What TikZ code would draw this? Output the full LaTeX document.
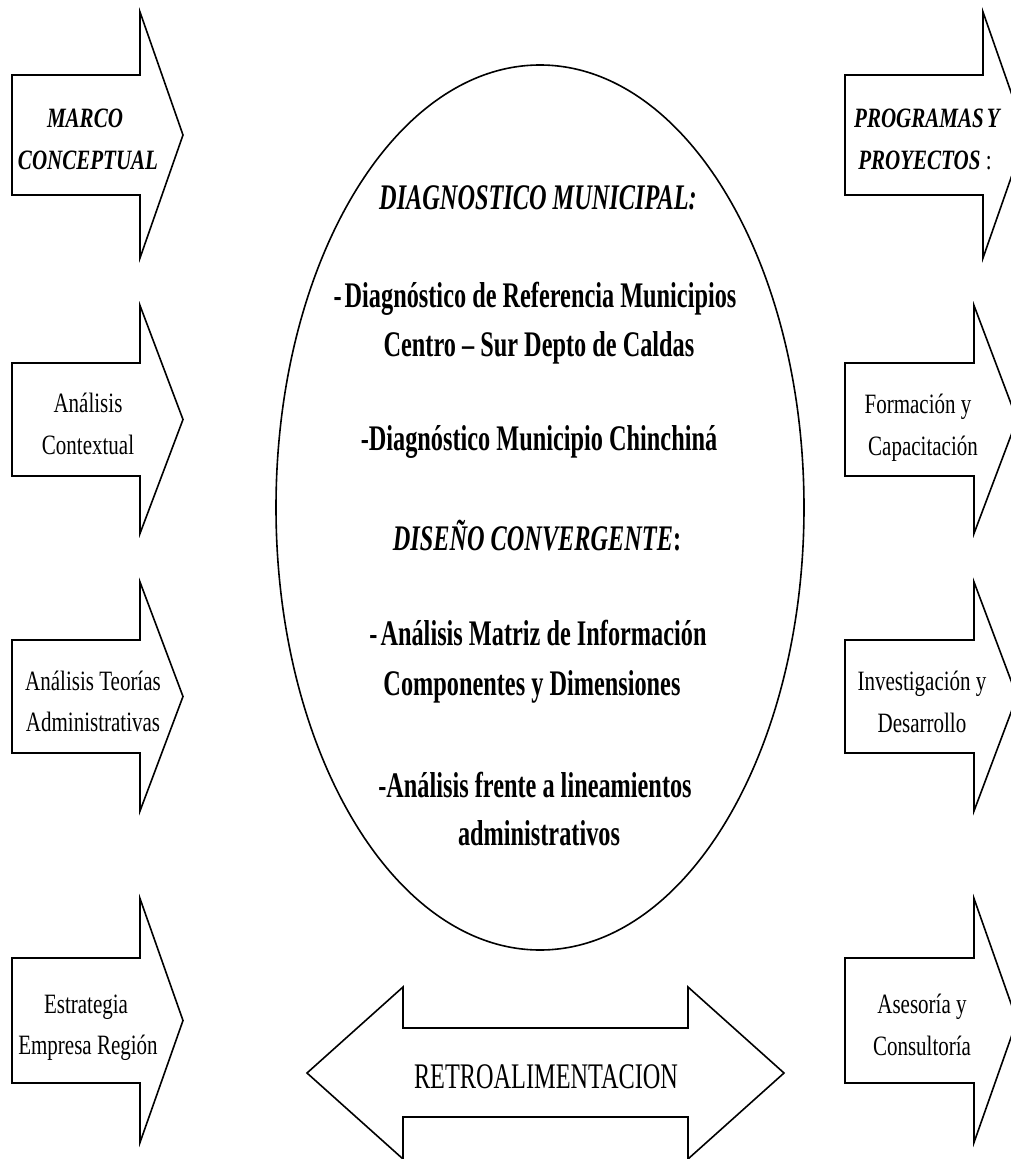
\documentclass[tikz,border=0pt]{standalone}
\usepackage{fontspec}
\setmainfont{Liberation Serif}
% narrow Times-like faces for the large and the small labels
\newfontfamily\bigtimes[FakeStretch=0.675]{Liberation Serif}
\newfontfamily\smalltimes[FakeStretch=0.75]{Liberation Serif}
\tikzset{
  outline/.style={draw=black, line width=1.6pt, line join=miter, fill=white},
  biglabel/.style={anchor=base, inner sep=0pt, font=\bigtimes\fontsize{36}{40}\selectfont},
  smalllabel/.style={anchor=base, inner sep=0pt, font=\smalltimes\fontsize{28}{32}\selectfont},
}
\begin{document}
\begin{tikzpicture}[x=1pt, y=-1pt]
  \useasboundingbox (0,0) rectangle (1011,1159);
  \fill[white] (0,0) rectangle (1011,1159);
  \clip (0,0) rectangle (1011,1159);

  % input arrows on the left: centre / half body / half head
  \foreach \c/\bh/\hh in {135/60/123, 419.5/56.5/114, 696.5/56.5/114.5, 1020.5/62.5/122}{
    \draw[outline] (12,{\c-\bh}) -- (140,{\c-\bh}) -- (140,{\c-\hh}) -- (183,\c)
      -- (140,{\c+\hh}) -- (140,{\c+\bh}) -- (12,{\c+\bh}) -- cycle;
  }
  % output arrows on the right
  \foreach \c/\bh/\hh/\s in {135/60/123/983, 419.5/56.5/114/974, 696.5/56.5/114.5/974, 1020.5/62.5/122/974}{
    \draw[outline] (845,{\c-\bh}) -- (\s,{\c-\bh}) -- (\s,{\c-\hh}) -- ({\s+43},\c)
      -- (\s,{\c+\hh}) -- (\s,{\c+\bh}) -- (845,{\c+\bh}) -- cycle;
  }

  % central ellipse
  \draw[outline] (540,507.5) ellipse [x radius=264pt, y radius=442.5pt];

  % feedback double arrow
  \draw[outline] (307,1073) -- (403,987) -- (403,1028) -- (688,1028) -- (688,987)
    -- (784,1073) -- (688,1159) -- (688,1117) -- (403,1117) -- (403,1159) -- cycle;

  % left labels
  \node[smalllabel] (mc1) at (85,127) {\bfseries\itshape MARCO};
  \node[smalllabel] (mc2) at (88,169) {\bfseries\itshape CONCEPTUAL};
  \node[smalllabel] (ac1) at (88,412) {Análisis};
  \node[smalllabel] (ac2) at (88,454) {Contextual};
  \node[smalllabel] (at1) at (93,690) {Análisis Teorías};
  \node[smalllabel] (at2) at (93,731) {Administrativas};
  \node[smalllabel] (er1) at (86,1013) {Estrategia};
  \node[smalllabel] (er2) at (88,1054) {Empresa Región};

  % right labels
  \node[smalllabel] (pp1) at (927,127) {\bfseries\itshape PROGRAMAS\kern-2pt{} Y};
  \node[smalllabel] (pp2) at (925,169) {\bfseries\itshape PROYECTOS {\upshape\mdseries :}};
  \node[smalllabel] (fc1) at (918,413) {Formación y};
  \node[smalllabel] (fc2) at (923,455) {Capacitación};
  \node[smalllabel] (id1) at (922,690) {Investigación y};
  \node[smalllabel] (id2) at (922,732) {Desarrollo};
  \node[smalllabel] (as1) at (922,1013) {Asesoría y};
  \node[smalllabel] (as2) at (922,1055) {Consultoría};

  % ellipse contents
  \node[biglabel] (dm) at (538,209) {\bfseries\itshape DIAGNOSTICO MUNICIPAL:};
  \node[biglabel] (d1) at (535,307) {\bfseries -\kern3pt Diagnóstico de Referencia Municipios};
  \node[biglabel] (d2) at (539,356) {\bfseries Centro – Sur Depto de Caldas};
  \node[biglabel] (d3) at (539,450) {\bfseries -Diagnóstico Municipio Chinchiná};
  \node[biglabel] (dc) at (537,550) {\bfseries\itshape DISEÑO CONVERGENTE{\upshape :}};
  \node[biglabel] (m1) at (538,645) {\bfseries -\kern3pt Análisis Matriz de Información};
  \node[biglabel] (m2) at (532,695) {\bfseries Componentes y Dimensiones};
  \node[biglabel] (f1) at (535,797) {\bfseries -Análisis frente a lineamientos};
  \node[biglabel] (f2) at (539,845) {\bfseries administrativos};

  \node[biglabel] (retro) at (546,1088) {RETROALIMENTACION};
\end{tikzpicture}
\end{document}
